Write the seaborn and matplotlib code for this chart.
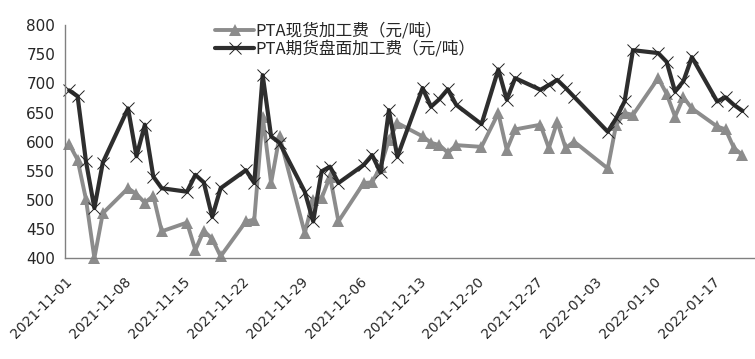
import numpy as np
import pandas as pd
import matplotlib
matplotlib.use("Agg")
import matplotlib.pyplot as plt
import matplotlib.dates as mdates
import matplotlib.transforms as mtransforms
import seaborn as sns

# trading days shown in the chart
dates = [
    "2021-11-01", "2021-11-02", "2021-11-03", "2021-11-04", "2021-11-05",
    "2021-11-08", "2021-11-09", "2021-11-10", "2021-11-11", "2021-11-12",
    "2021-11-15", "2021-11-16", "2021-11-17", "2021-11-18", "2021-11-19",
    "2021-11-22", "2021-11-23", "2021-11-24", "2021-11-25", "2021-11-26",
    "2021-11-29", "2021-11-30",
    "2021-12-01", "2021-12-02", "2021-12-03",
    "2021-12-06", "2021-12-07", "2021-12-08", "2021-12-09", "2021-12-10",
    "2021-12-13", "2021-12-14", "2021-12-15", "2021-12-16", "2021-12-17",
    "2021-12-20", "2021-12-22", "2021-12-23", "2021-12-24",
    "2021-12-27", "2021-12-28", "2021-12-29", "2021-12-30", "2021-12-31",
    "2022-01-04", "2022-01-05", "2022-01-06", "2022-01-07",
    "2022-01-10", "2022-01-11", "2022-01-12", "2022-01-13", "2022-01-14",
    "2022-01-17", "2022-01-18", "2022-01-19", "2022-01-20",
]

# PTA spot processing fee (yuan/ton)
spot_fee = [
    596, 569, 501, 400, 477,
    520, 510, 495, 507, 446,
    461, 414, 447, 433, 403,
    463, 466, 643, 529, 609,
    443, 500,
    503, 540, 463,
    529, 530, 557, 603, 632,
    609, 598, 594, 581, 594,
    591, 649, 586, 621,
    629, 589, 634, 589, 600,
    554, 629, 649, 646,
    709, 682, 643, 676, 657,
    626, 621, 589, 577,
]

# PTA futures processing fee (yuan/ton)
futures_fee = [
    688, 678, 566, 486, 564,
    657, 575, 629, 540, 520,
    514, 543, 530, 471, 520,
    551, 529, 714, 609, 598,
    514, 463,
    549, 557, 529,
    560, 577, 547, 654, 574,
    692, 660, 673, 690, 663,
    630, 724, 672, 709,
    689, 697, 706, 692, 677,
    617, 640, 669, 757,
    752, 737, 686, 704, 745,
    669, 676, 663, 653,
]

label_spot = "PTA现货加工费（元/吨）"
label_fut = "PTA期货盘面加工费（元/吨）"

df = pd.DataFrame({
    "date": pd.to_datetime(dates) + pd.Timedelta(hours=12),
    "spot": spot_fee,
    "futures": futures_fee,
})

sns.set_style("white")
plt.rcParams["font.family"] = ["Noto Sans CJK SC", "DejaVu Sans"]

fig = plt.figure(figsize=(7.55, 3.59), dpi=100)
ax = fig.add_axes([0.086, 0.281, 0.914, 0.649])

sns.lineplot(data=df, x="date", y="spot", ax=ax, color="#8c8c8c", lw=2.8,
             marker="^", markersize=8, markeredgewidth=0, label=label_spot,
             clip_on=False)
sns.lineplot(data=df, x="date", y="futures", ax=ax, color="#2e2e2e", lw=3.0,
             marker="x", markersize=9, markeredgewidth=0.7,
             markeredgecolor="#222222", label=label_fut, clip_on=False)

ax.set_ylim(400, 800)
ax.set_yticks(np.arange(400, 801, 50))
ax.set_xlim(pd.Timestamp("2021-11-01"), pd.Timestamp("2022-01-22"))
ticks = pd.date_range("2021-11-01", "2022-01-17", freq="7D")
ax.set_xticks(ticks)
ax.xaxis.set_major_formatter(mdates.DateFormatter("%Y-%m-%d"))
ax.set_xlabel("")
ax.set_ylabel("")

shift = mtransforms.ScaledTranslation(7 / 100, 0, fig.dpi_scale_trans)
for lbl in ax.get_xticklabels():
    lbl.set_rotation(45)
    lbl.set_ha("right")
    lbl.set_rotation_mode("anchor")
    lbl.set_fontsize(10)
    lbl.set_family("DejaVu Sans")
    lbl.set_transform(lbl.get_transform() + shift)
for lbl in ax.get_yticklabels():
    lbl.set_fontsize(11)
    lbl.set_family("DejaVu Sans")

ax.tick_params(axis="x", direction="out", length=5, width=0.8, color="#808080", pad=7)
ax.tick_params(axis="y", direction="out", length=4, width=0.8, color="#808080", pad=3)
for side in ["top", "right"]:
    ax.spines[side].set_visible(False)
for side in ["left", "bottom"]:
    ax.spines[side].set_color("#808080")
    ax.spines[side].set_linewidth(1.0)

ax.legend(loc="upper left", bbox_to_anchor=(0.272, 0.965),
          bbox_transform=fig.transFigure, frameon=False, fontsize=12,
          handlelength=2.3, handletextpad=0.1, labelspacing=0.05,
          borderpad=0.1)

fig.savefig("out.png", dpi=100)
